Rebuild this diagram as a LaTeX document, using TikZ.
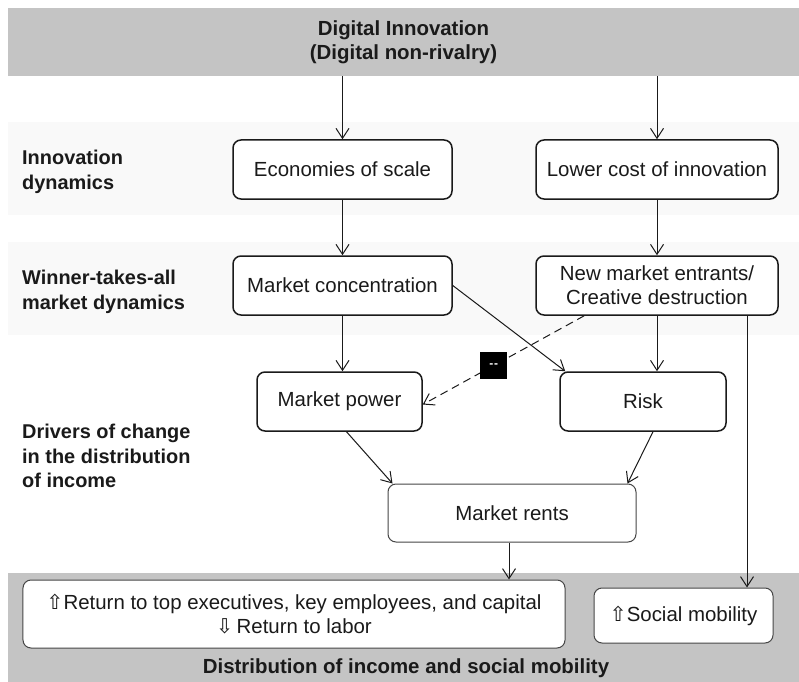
\documentclass[tikz,border=0pt]{standalone}
\usepackage{fontspec}
\setmainfont{Liberation Sans}
\newfontfamily\arrowglyphs{DejaVu Sans}
\usetikzlibrary{arrows.meta}
\definecolor{bandgray}{RGB}{196,196,196}
\definecolor{bandlight}{RGB}{249,249,249}
\definecolor{ink}{RGB}{26,26,26}
\definecolor{softedge}{RGB}{70,70,70}

\begin{document}
\begin{tikzpicture}[x=1bp,y=-1bp,
  box/.style={draw=ink, line width=1.5bp, rounded corners=8bp, fill=white,
    text=ink, font=\fontsize{20.5}{24}\selectfont, align=center, inner sep=0pt},
  softbox/.style={box, draw=softedge, line width=1bp},
  rowlabel/.style={anchor=north west, align=left, inner sep=0pt, text=ink,
    font=\bfseries\fontsize{20}{24.5}\selectfont},
  band/.style={fill=bandgray, inner sep=0pt, text=ink, align=center,
    font=\bfseries\fontsize{20.5}{24}\selectfont},
  flow/.style={draw=ink, line width=1bp, -{Straight Barb[length=10bp,width=13bp]}},
  ]
\useasboundingbox (0,0) rectangle (799,682);
\fill[white] (0,0) rectangle (799,682);

% light row bands
\fill[bandlight] (8,122) rectangle (799,215);
\fill[bandlight] (8,242) rectangle (799,335);

% top and bottom gray bands
\node[band, minimum width=791bp, minimum height=68bp] (top) at (403.5,42)
  {Digital Innovation\\(Digital non-rivalry)};
\node[band, minimum width=791bp, minimum height=109bp] (bottom) at (403.5,627.5) {};
\node[anchor=base, inner sep=0pt, text=ink, font=\bfseries\fontsize{20.5}{24}\selectfont]
  (bottomlabel) at (406,673) {Distribution of income and social mobility};

% row labels
\node[rowlabel] (rowA) at (22,150) {Innovation\\dynamics};
\node[rowlabel] (rowB) at (22,270) {Winner-takes-all\\market dynamics};
\node[rowlabel] (rowC) at (22,424) {Drivers of change\\in the distribution\\of income};

% boxes
\node[box, minimum width=219bp, minimum height=59bp] (econ) at (342.5,169.5) {Economies of scale};
\node[box, minimum width=242bp, minimum height=59bp] (lower) at (657,169.5) {Lower cost of innovation};
\node[box, minimum width=219bp, minimum height=59bp] (conc) at (342.5,285.5) {Market concentration};
\node[box, minimum width=242bp, minimum height=59bp] (entr) at (657,285.5) {New market entrants/\\Creative destruction};
\node[box, minimum width=165bp, minimum height=59bp] (power) at (339.5,401.5) {Market power};
\node[box, minimum width=166bp, minimum height=59bp] (risk) at (643,401.5) {Risk};
\node[softbox, minimum width=248bp, minimum height=58bp] (rents) at (512,513) {Market rents};
\node[softbox, minimum width=542bp, minimum height=68bp] (ret) at (294,614)
  {{\arrowglyphs ⇧}Return to top executives, key employees, and capital\\{\arrowglyphs ⇩}\,Return to labor};
\node[softbox, minimum width=179bp, minimum height=55bp] (social) at (683.5,615.5)
  {{\arrowglyphs ⇧}Social mobility};

% connectors
\draw[flow] (econ.north |- top.south) -- (econ.north);
\draw[flow] (lower.north |- top.south) -- (lower.north);
\draw[flow] (econ) -- (conc);
\draw[flow] (lower) -- (entr);
\draw[flow] (conc.south) -- (conc.south |- power.north);
\draw[flow] (entr.south) -- (entr.south |- risk.north);
\draw[flow] (conc.east) -- ([xshift=6bp]risk.north west);
\draw[flow, dash pattern=on 8bp off 5bp] ([xshift=49bp]entr.south west) -- ([yshift=-3bp]power.east)
  node[pos=0.56, fill=black, minimum size=27bp, inner sep=0pt, text=white,
       font=\bfseries\fontsize{12}{12}\selectfont] (flag) {-\kern0.8pt-};
\draw[flow] ([xshift=90bp]entr.south) -- ([xshift=90bp]entr.south |- social.north);
\draw[flow] ([xshift=7bp]power.south) -- ([xshift=5bp]rents.north west);
\draw[flow] ([xshift=10bp]risk.south) -- ([xshift=-9bp]rents.north east);
\draw[flow] ([xshift=-3bp]rents.south) -- ([xshift=-3bp]rents.south |- ret.north);
\end{tikzpicture}
\end{document}
